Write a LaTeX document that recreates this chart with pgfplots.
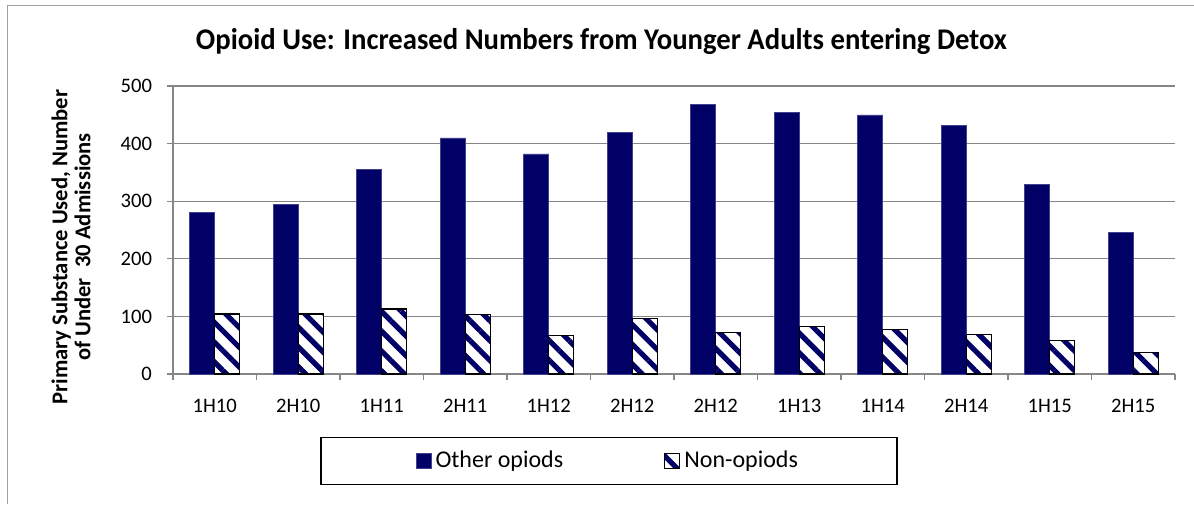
\documentclass[border=0pt]{standalone}
\usepackage{pgfplots}
\pgfplotsset{compat=1.18}
\usepackage{fontspec}
\setmainfont{Carlito}
\usetikzlibrary{patterns.meta}
\usepackage{graphicx}
\definecolor{navyb}{RGB}{0,0,102}
\definecolor{gridg}{RGB}{134,134,134}
\definecolor{frameg}{RGB}{160,160,160}
\begin{document}
\begin{tikzpicture}[x=1pt,y=1pt]
\useasboundingbox (0,0) rectangle (597,252);
\draw[frameg,line width=0.7pt] (3.6,0) -- (3.6,249.1) -- (597,249.1);
\node[anchor=base,inner sep=0] at (300.75,227) {\fontsize{15}{17}\selectfont\bfseries\resizebox{405.5pt}{\height}{Opioid Use: Increased Numbers from Younger Adults entering Detox}};
\node[rotate=90, align=center, font=\fontsize{11.3}{11.5}\selectfont\bfseries, inner sep=0] at (35.5,128.5) {Primary Substance Used, Number\\of Under\ \ 30 Admissions};
\begin{axis}[at={(86.5pt,65pt)}, anchor=south west, scale only axis,
  width=501pt, height=144pt,
  ybar=0pt, bar width=12.5pt,
  xmin=-0.5, xmax=11.5, ymin=0, ymax=500,
  xtick={0,1,2,3,4,5,6,7,8,9,10,11},
  xticklabels={1H10,2H10,1H11,2H11,1H12,2H12,2H12,1H13,1H14,2H14,1H15,2H15},
  minor xtick={-0.5,0.5,...,11.5},
  ytick={0,100,...,500},
  minor ytick={0,100,...,500},
  major tick length=0pt, minor tick length=3pt,
  ymajorgrids, grid style={gridg, line width=0.6pt},
  axis x line*=bottom, axis y line*=left,
  axis line style={-, gridg, line width=0.6pt},
  tick style={gridg, line width=0.6pt},
  tick align=outside,
  ticklabel style={font=\fontsize{10.3}{12}\selectfont, text=black},
  yticklabel style={xshift=-7pt},
  xticklabel style={yshift=-9pt},
  /pgf/number format/assume math mode=true,
  legend style={at={(0.4351,-0.302)}, anchor=center, draw=black, line width=0.6pt,
    font=\fontsize{12}{14}\selectfont, inner xsep=47.5pt, inner ysep=5pt,
    /tikz/every even column/.append style={column sep=48.5pt}},
  legend columns=2,
  legend image code/.code={\draw[#1] (0pt,-3.75pt) rectangle (7.5pt,3.75pt);},
]
\addplot[fill=navyb, draw=navyb!75!white, line width=0.3pt]
  coordinates {(0,281) (1,295) (2,355) (3,410) (4,382) (5,420) (6,468) (7,454) (8,450) (9,431) (10,329) (11,246)};
\addplot[draw=black, line width=0.6pt, preaction={fill=white},
  pattern={Lines[angle=-45,distance=7pt,line width=2.6pt]}, pattern color=navyb]
  coordinates {(0,104) (1,104) (2,113) (3,103) (4,67) (5,97) (6,72) (7,83) (8,77) (9,69) (10,58) (11,37)};
\legend{Other opiods, Non-opiods}
\end{axis}
\end{tikzpicture}
\end{document}
